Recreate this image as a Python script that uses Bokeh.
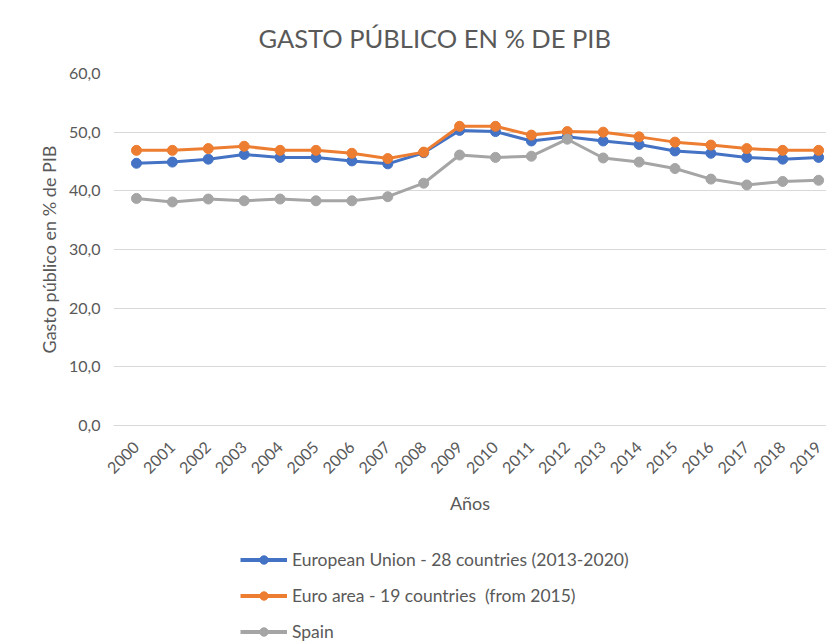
import math
from bokeh.plotting import figure
from bokeh.layouts import column
from bokeh.models import (Range1d, FixedTicker, Legend, LegendItem, ColumnDataSource, Title)
from bokeh.embed import file_html
from bokeh.resources import INLINE

years = list(range(2000, 2020))
eu28 = [44.7, 44.9, 45.4, 46.2, 45.7, 45.7, 45.1, 44.6, 46.5, 50.3,
        50.1, 48.5, 49.2, 48.5, 47.9, 46.8, 46.4, 45.7, 45.4, 45.7]
euro19 = [46.9, 46.9, 47.2, 47.6, 46.9, 46.9, 46.4, 45.5, 46.6, 51.0,
          51.0, 49.5, 50.1, 50.0, 49.2, 48.3, 47.8, 47.2, 46.9, 46.9]
spain = [38.7, 38.1, 38.6, 38.3, 38.6, 38.3, 38.3, 39.0, 41.3, 46.1,
         45.7, 45.9, 48.8, 45.6, 44.9, 43.8, 42.0, 41.0, 41.6, 41.8]
y_ticks = [0, 10, 20, 30, 40, 50, 60]
series_names = ["European Union - 28 countries (2013-2020)",
                "Euro area - 19 countries  (from 2015)",
                "Spain"]
colors = ["#4472C4", "#ED7D31", "#A5A5A5"]
series = [eu28, euro19, spain]

FONT = "Lato"
TXT = "#595959"

p = figure(width=826, height=530, output_backend="svg", toolbar_location=None,
           x_range=Range1d(1999.36, 2019.22), y_range=Range1d(0, 60),
           min_border_left=113, min_border_right=0, min_border_top=73,
           min_border_bottom=105)
p.outline_line_color = None
p.background_fill_color = "white"
p.border_fill_color = "white"

p.title = Title(text="GASTO PÚBLICO EN % DE PIB", align="left", offset=145,
                text_font=FONT, text_font_size="25.5px", text_font_style="normal",
                text_color=TXT, standoff=37, vertical_align="top",
                text_line_height=0.7)

p.xgrid.grid_line_color = None
p.ygrid.grid_line_color = "#D9D9D9"
p.ygrid.grid_line_width = 1

p.yaxis.ticker = FixedTicker(ticks=y_ticks)
p.yaxis.major_label_overrides = {v: f"{v:.1f}".replace(".", ",") for v in y_ticks}
p.yaxis.axis_line_color = None
p.yaxis.major_tick_line_color = None
p.yaxis.minor_tick_line_color = None
p.yaxis.major_label_standoff = 7
p.yaxis.major_label_text_font = FONT
p.yaxis.major_label_text_font_size = "16px"
p.yaxis.major_label_text_color = TXT
p.yaxis.axis_label = "Gasto público en % de PIB"
p.yaxis.axis_label_text_font = FONT
p.yaxis.axis_label_text_font_size = "18px"
p.yaxis.axis_label_text_font_style = "normal"
p.yaxis.axis_label_text_color = TXT
p.yaxis.axis_label_standoff = 6

p.xaxis.ticker = FixedTicker(ticks=years)
p.xaxis.major_label_overrides = {y: str(y) for y in years}
p.xaxis.axis_line_color = "#D9D9D9"
p.xaxis.major_tick_line_color = None
p.xaxis.minor_tick_line_color = None
p.xaxis.major_label_orientation = math.pi / 4
p.xaxis.major_label_standoff = 13
p.xaxis.major_label_text_font = FONT
p.xaxis.major_label_text_font_size = "16px"
p.xaxis.major_label_text_color = TXT
p.xaxis.axis_label = "Años"
p.xaxis.axis_label_text_font = FONT
p.xaxis.axis_label_text_font_size = "18px"
p.xaxis.axis_label_text_font_style = "normal"
p.xaxis.axis_label_text_color = TXT
p.xaxis.axis_label_standoff = 10

for vals, c in zip(series, colors):
    src = ColumnDataSource(dict(x=years, y=vals))
    p.line("x", "y", source=src, line_color=c, line_width=3)
    p.scatter("x", "y", source=src, size=10, fill_color=c, line_color=c)

# legend panel below the chart
p2 = figure(width=826, height=111, output_backend="svg", toolbar_location=None,
            x_axis_location=None, y_axis_location=None,
            min_border_left=0, min_border_right=0, min_border_top=0,
            min_border_bottom=0)
p2.outline_line_color = None
p2.xgrid.grid_line_color = None
p2.ygrid.grid_line_color = None
items = []
for name, vals, c in zip(series_names, series, colors):
    src = ColumnDataSource(dict(x=years, y=vals))
    r1 = p2.line("x", "y", source=src, line_color=c, line_width=4, visible=False)
    r2 = p2.scatter("x", "y", source=src, size=11, fill_color=c, line_color=c,
                    visible=False)
    items.append(LegendItem(label=name, renderers=[r1, r2]))

legend = Legend(items=items, location=(127, -1), orientation="vertical",
                border_line_color=None, background_fill_alpha=0,
                padding=0, margin=0, spacing=15, label_height=21,
                glyph_height=21, glyph_width=47, label_standoff=5,
                label_text_font=FONT, label_text_font_size="17.5px",
                label_text_color=TXT)
p2.add_layout(legend, "center")

layout = column(p, p2, spacing=0)
open("out.html", "w").write(file_html(layout, INLINE))
